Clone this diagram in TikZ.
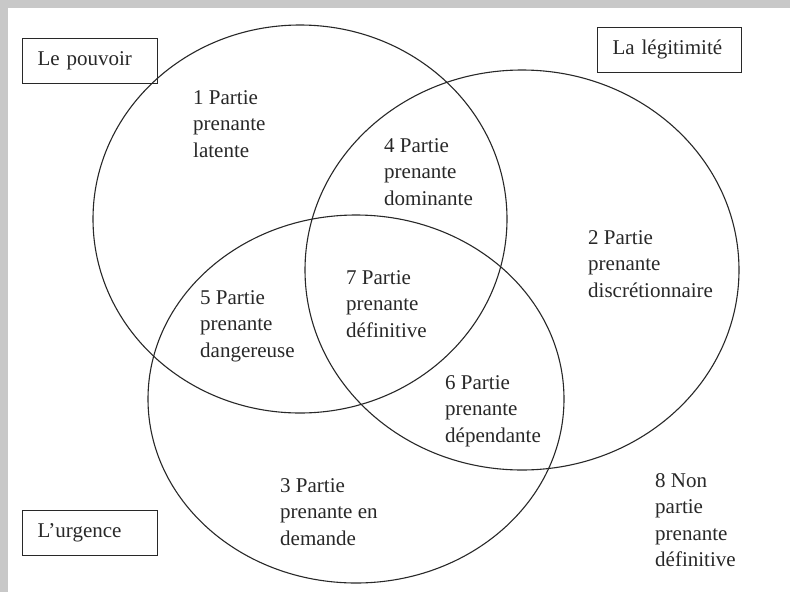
\documentclass[tikz,border=0pt]{standalone}
\usepackage{fontspec}
\setmainfont{Liberation Serif}
\usepackage{xcolor}
\definecolor{framegray}{RGB}{200,200,200}
\definecolor{inkgray}{RGB}{40,40,40}

\begin{document}
\begin{tikzpicture}[
    x=1pt, y=-1pt,
    zone/.style={draw=inkgray, line width=1.1pt},
    legend box/.style={draw=inkgray, line width=1pt, anchor=west, inner xsep=15pt,
                       minimum height=45pt, align=left, text=inkgray,
                       font=\fontsize{21}{26.5}\selectfont},
    part/.style={anchor=north west, inner sep=0pt, align=left, text=inkgray,
                 font=\fontsize{21}{26.5}\selectfont}
  ]
  \fill[framegray] (0,0) rectangle (790,592);
  \fill[white] (8,8) rectangle (790,592);
  \useasboundingbox (0,0) rectangle (790,592);

  \draw[zone] (300,219) ellipse [x radius=207, y radius=194];   % pouvoir
  \draw[zone] (522,270) ellipse [x radius=217, y radius=200];   % legitimite
  \draw[zone] (356,399) ellipse [x radius=208, y radius=184];   % urgence

  \node[legend box, text width=105pt] (pouvoir)    at (22,60.5)  {Le pouvoir};
  \node[legend box, text width=114pt] (legitimite) at (597,49.5) {La légitimité};
  \node[legend box, text width=105pt] (urgence)    at (22,533)   {L’urgence};

  \node[part] (latente)        at (193,90)  {1 Partie\\prenante\\latente};
  \node[part] (discretionnaire) at (588,230) {2 Partie\\prenante\\discrétionnaire};
  \node[part] (demande)        at (280,478) {3 Partie\\prenante en\\demande};
  \node[part] (dominante)      at (384,138) {4 Partie\\prenante\\dominante};
  \node[part] (dangereuse)     at (200,290) {5 Partie\\prenante\\dangereuse};
  \node[part] (dependante)     at (445,375) {6 Partie\\prenante\\dépendante};
  \node[part] (definitive)     at (346,270) {7 Partie\\prenante\\définitive};
  \node[part] (nonpartie)      at (655,473) {8 Non\\partie\\prenante\\définitive};
\end{tikzpicture}
\end{document}
